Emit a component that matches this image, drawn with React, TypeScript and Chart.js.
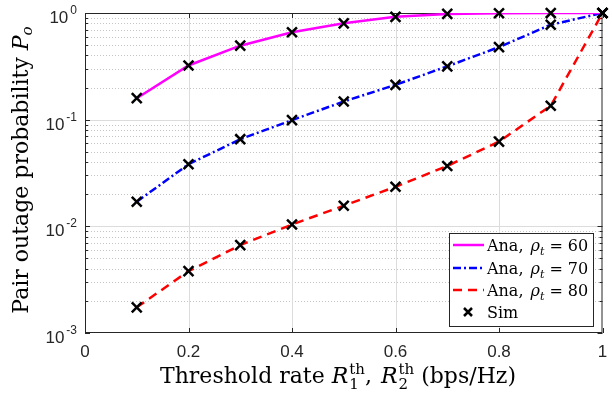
import React, { useEffect, useRef } from "react";
import { Chart, registerables } from "chart.js";
Chart.register(...registerables);

const xValues = [0.1, 0.2, 0.3, 0.4, 0.5, 0.6, 0.7, 0.8, 0.9, 1.0];
const anaRho60 = [0.159, 0.322, 0.494, 0.66, 0.8, 0.92, 0.98, 0.995, 0.999, 1];
const anaRho70 = [0.017, 0.0382, 0.0656, 0.099, 0.148, 0.212, 0.316, 0.479, 0.776, 1];
const anaRho80 = [0.00174, 0.0038, 0.00667, 0.0104, 0.0156, 0.0235, 0.0368, 0.0623, 0.135, 1];
const simRho60 = [0.159, 0.322, 0.494, 0.66, 0.8, 0.92, 0.98, 0.995, 0.999, 1];
const simRho70 = [0.017, 0.0382, 0.0656, 0.099, 0.148, 0.212, 0.316, 0.479, 0.776, 1];
const simRho80 = [0.00174, 0.0038, 0.00667, 0.0104, 0.0156, 0.0235, 0.0368, 0.0623, 0.135, 1];
const xTicks = [0, 0.2, 0.4, 0.6, 0.8, 1];
const xTickLabels = ["0", "0.2", "0.4", "0.6", "0.8", "1"];
const yDecades = [1e-3, 1e-2, 1e-1, 1];
const yTickExponents = ["-3", "-2", "-1", "0"];
const legendRho = ["60", "70", "80"];

const SERIF = "'DejaVu Serif', 'Liberation Serif', serif";
const SANS = "'Liberation Sans', Arial, sans-serif";
const AX = "#262626";

type Seg =
  | { t: string; font: string; dy?: number; pre?: number }
  | { sup: string; sub: string; supFont: string; subFont: string; supDy: number; subDy: number };

function segWidth(ctx: CanvasRenderingContext2D, s: Seg): number {
  if ("t" in s) {
    ctx.font = s.font;
    return ctx.measureText(s.t).width + (s.pre || 0);
  }
  ctx.font = s.supFont;
  const a = ctx.measureText(s.sup).width;
  ctx.font = s.subFont;
  const b = ctx.measureText(s.sub).width;
  return Math.max(a, b) + 1;
}

function drawSegs(ctx: CanvasRenderingContext2D, segs: Seg[], x: number, y: number, align: "left" | "center" | "right") {
  const total = segs.reduce((acc, s) => acc + segWidth(ctx, s), 0);
  let cx = align === "left" ? x : align === "center" ? x - total / 2 : x - total;
  ctx.textAlign = "left";
  ctx.textBaseline = "alphabetic";
  for (const s of segs) {
    const w = segWidth(ctx, s);
    if ("t" in s) {
      ctx.font = s.font;
      ctx.fillText(s.t, cx + (s.pre || 0), y + (s.dy || 0));
    } else {
      ctx.font = s.supFont;
      ctx.fillText(s.sup, cx + 1, y + s.supDy);
      ctx.font = s.subFont;
      ctx.fillText(s.sub, cx + 1, y + s.subDy);
    }
    cx += w;
  }
}

const axesPlugin = {
  id: "matlabAxes",
  beforeDatasetsDraw(chart: any) {
    const { ctx, chartArea: a, scales } = chart;
    const xs = scales.x;
    const ys = scales.y;
    ctx.save();
    ctx.fillStyle = "#ffffff";
    ctx.fillRect(a.left, a.top, a.right - a.left, a.bottom - a.top);
    ctx.lineWidth = 1;
    ctx.strokeStyle = "#c4c4c4";
    ctx.setLineDash([1, 2]);
    for (let i = 0; i < yDecades.length - 1; i++) {
      for (let m = 2; m <= 9; m++) {
        const y = Math.round(ys.getPixelForValue(m * yDecades[i])) + 0.5;
        ctx.beginPath();
        ctx.moveTo(a.left, y);
        ctx.lineTo(a.right, y);
        ctx.stroke();
      }
    }
    ctx.setLineDash([]);
    ctx.strokeStyle = "#dcdcdc";
    for (let i = 1; i < yDecades.length - 1; i++) {
      const y = Math.round(ys.getPixelForValue(yDecades[i])) + 0.5;
      ctx.beginPath();
      ctx.moveTo(a.left, y);
      ctx.lineTo(a.right, y);
      ctx.stroke();
    }
    for (let i = 1; i < xTicks.length - 1; i++) {
      const x = Math.round(xs.getPixelForValue(xTicks[i])) + 0.5;
      ctx.beginPath();
      ctx.moveTo(x, a.top);
      ctx.lineTo(x, a.bottom);
      ctx.stroke();
    }
    ctx.strokeStyle = AX;
    ctx.strokeRect(a.left + 0.5, a.top + 0.5, a.right - a.left - 1, a.bottom - a.top - 1);
    ctx.beginPath();
    for (const t of xTicks) {
      const x = Math.round(xs.getPixelForValue(t)) + 0.5;
      ctx.moveTo(x, a.bottom);
      ctx.lineTo(x, a.bottom - 5);
      ctx.moveTo(x, a.top);
      ctx.lineTo(x, a.top + 5);
    }
    for (let i = 0; i < yDecades.length; i++) {
      const y = Math.round(ys.getPixelForValue(yDecades[i])) + 0.5;
      ctx.moveTo(a.left, y);
      ctx.lineTo(a.left + 5, y);
      ctx.moveTo(a.right, y);
      ctx.lineTo(a.right - 5, y);
      if (i < yDecades.length - 1) {
        for (let m = 2; m <= 9; m++) {
          const ym = Math.round(ys.getPixelForValue(m * yDecades[i])) + 0.5;
          ctx.moveTo(a.left, ym);
          ctx.lineTo(a.left + 3, ym);
          ctx.moveTo(a.right, ym);
          ctx.lineTo(a.right - 3, ym);
        }
      }
    }
    ctx.stroke();
    ctx.restore();
  },
  afterDraw(chart: any) {
    const { ctx, chartArea: a, scales } = chart;
    const xs = scales.x;
    const ys = scales.y;
    ctx.save();
    ctx.fillStyle = AX;
    ctx.font = `17px ${SANS}`;
    ctx.textAlign = "center";
    ctx.textBaseline = "alphabetic";
    xTicks.forEach((t, i) => {
      ctx.fillText(xTickLabels[i], xs.getPixelForValue(t), a.bottom + 24);
    });
    yDecades.forEach((v, i) => {
      const y = ys.getPixelForValue(v);
      ctx.font = `12px ${SANS}`;
      const ew = ctx.measureText(yTickExponents[i]).width;
      ctx.textAlign = "right";
      ctx.fillText(yTickExponents[i], a.left - 8, y + 1);
      ctx.font = `17px ${SANS}`;
      ctx.fillText("10", a.left - 10 - ew, y + 10);
    });
    ctx.fillStyle = "#000000";
    const fs = 22;
    const ss = 15;
    drawSegs(
      ctx,
      [
        { t: "Threshold rate ", font: `${fs}px ${SERIF}` },
        { t: "R", font: `italic ${fs}px ${SERIF}` },
        { sup: "th", sub: "1", supFont: `${ss}px ${SERIF}`, subFont: `${ss}px ${SERIF}`, supDy: -9, subDy: 6 },
        { t: ", ", font: `${fs}px ${SERIF}` },
        { t: "R", font: `italic ${fs}px ${SERIF}`, pre: 2 },
        { sup: "th", sub: "2", supFont: `${ss}px ${SERIF}`, subFont: `${ss}px ${SERIF}`, supDy: -9, subDy: 6 },
        { t: " (bps/Hz)", font: `${fs}px ${SERIF}` },
      ],
      338,
      a.bottom + 50,
      "center"
    );
    ctx.save();
    ctx.translate(28, 170);
    ctx.rotate(-Math.PI / 2);
    drawSegs(
      ctx,
      [
        { t: "Pair outage probability ", font: `${fs}px ${SERIF}` },
        { t: "P", font: `italic ${fs}px ${SERIF}` },
        { t: "o", font: `italic ${ss}px ${SERIF}`, dy: 4 },
      ],
      0,
      0,
      "center"
    );
    ctx.restore();
    const lx = 449, ly = 233, lw = 144, lh = 93;
    ctx.fillStyle = "#ffffff";
    ctx.fillRect(lx, ly, lw, lh);
    ctx.strokeStyle = AX;
    ctx.lineWidth = 1;
    ctx.strokeRect(lx + 0.5, ly + 0.5, lw, lh);
    const rows = [245, 268, 290, 312];
    const styles = [
      { c: "#ff00ff", d: [] as number[] },
      { c: "#0000ff", d: [8, 3, 2, 3] },
      { c: "#ff0000", d: [9, 6] },
    ];
    styles.forEach((s, i) => {
      ctx.strokeStyle = s.c;
      ctx.lineWidth = 2.5;
      ctx.setLineDash(s.d);
      ctx.beginPath();
      ctx.moveTo(453, rows[i]);
      ctx.lineTo(484, rows[i]);
      ctx.stroke();
      ctx.setLineDash([]);
      ctx.fillStyle = "#000000";
      drawSegs(
        ctx,
        [
          { t: "Ana, ", font: `16px ${SERIF}` },
          { t: "ρ", font: `italic 16px ${SERIF}`, pre: 2 },
          { t: "t", font: `italic 11px ${SERIF}`, dy: 4 },
          { t: "=", font: `16px ${SERIF}`, pre: 5 },
          { t: legendRho[i], font: `16px ${SERIF}`, pre: 5 },
        ],
        487,
        rows[i] + 6,
        "left"
      );
    });
    ctx.strokeStyle = "#000000";
    ctx.lineWidth = 2.5;
    ctx.beginPath();
    ctx.moveTo(464, rows[3] - 4);
    ctx.lineTo(472, rows[3] + 4);
    ctx.moveTo(472, rows[3] - 4);
    ctx.lineTo(464, rows[3] + 4);
    ctx.stroke();
    ctx.fillStyle = "#000000";
    drawSegs(ctx, [{ t: "Sim", font: `16px ${SERIF}` }], 487, rows[3] + 6, "left");
    ctx.restore();
  },
};

export default function App() {
  const ref = useRef<HTMLCanvasElement | null>(null);
  useEffect(() => {
    document.body.style.margin = "0";
    const toPts = (arr: number[]) => xValues.map((x, i) => ({ x, y: arr[i] }));
    const simPts = [...toPts(simRho60), ...toPts(simRho70), ...toPts(simRho80)];
    const chart = new Chart(ref.current as HTMLCanvasElement, {
      type: "line",
      data: {
        datasets: [
          {
            label: "Sim",
            data: simPts,
            showLine: false,
            pointStyle: "crossRot",
            pointRadius: 7,
            pointBorderWidth: 2.5,
            pointBorderColor: "#000000",
            pointBackgroundColor: "#000000",
            order: 0,
            clip: false as any,
          },
          {
            label: "Ana, rho_t = 60",
            data: toPts(anaRho60),
            borderColor: "#ff00ff",
            borderWidth: 2.5,
            pointRadius: 0,
            tension: 0,
            order: 1,
          },
          {
            label: "Ana, rho_t = 70",
            data: toPts(anaRho70),
            borderColor: "#0000ff",
            borderWidth: 2.5,
            borderDash: [8, 3, 2, 3],
            pointRadius: 0,
            tension: 0,
            order: 2,
          },
          {
            label: "Ana, rho_t = 80",
            data: toPts(anaRho80),
            borderColor: "#ff0000",
            borderWidth: 2.5,
            borderDash: [9, 6],
            pointRadius: 0,
            tension: 0,
            order: 3,
          },
        ],
      },
      options: {
        responsive: false,
        animation: false,
        events: [],
        layout: { padding: { left: 85, top: 13, right: 3, bottom: 66 } },
        plugins: { legend: { display: false }, tooltip: { enabled: false } },
        scales: {
          x: { type: "linear", min: 0, max: 1, display: false },
          y: { type: "logarithmic", min: 0.001, max: 1, display: false },
        },
      },
      plugins: [axesPlugin],
    });
    return () => chart.destroy();
  }, []);
  return (
    <div style={{ position: "absolute", left: 0, top: 0, width: 612, height: 399, background: "#fff" }}>
      <canvas ref={ref} width={612} height={399} style={{ width: 612, height: 399 }} />
    </div>
  );
}
